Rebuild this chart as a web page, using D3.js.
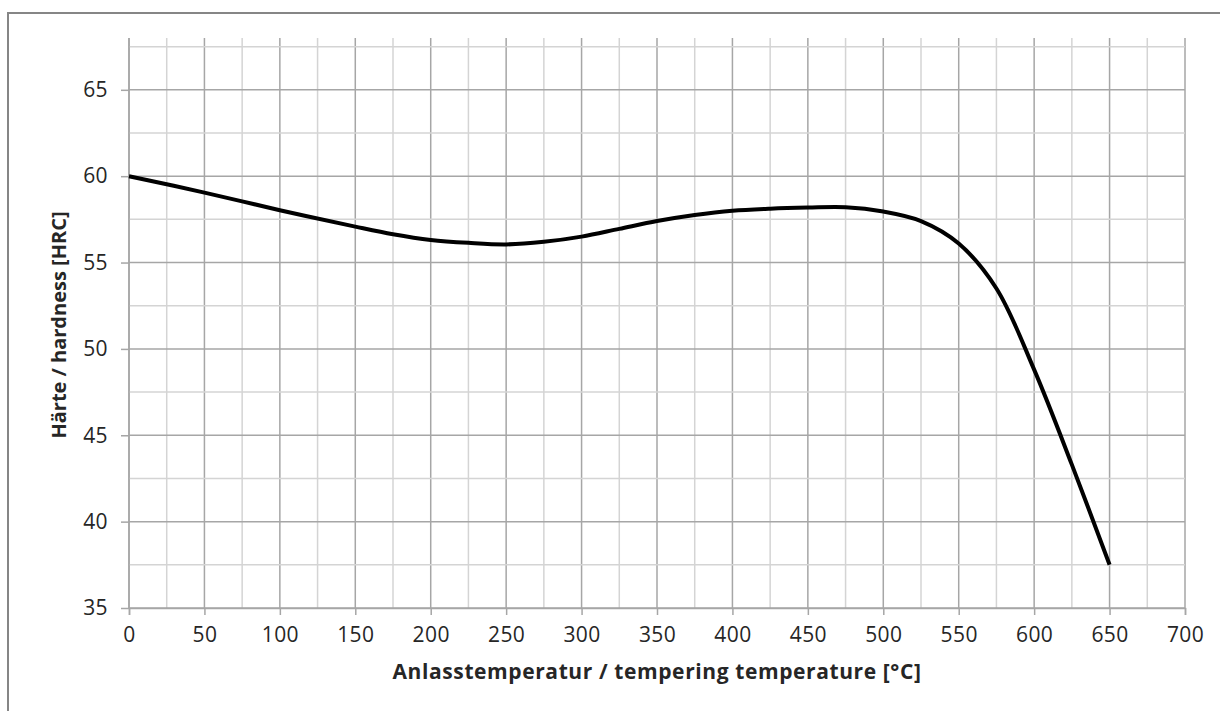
<!DOCTYPE html>
<html>
<head>
<meta charset="utf-8">
<script src="https://cdn.jsdelivr.net/npm/d3@7"></script>
<style>
  body { margin: 0; background: #fff; }
  svg text { font-family: "Open Sans", "DejaVu Sans", sans-serif; fill: #262626; }
</style>
</head>
<body>
<div id="vis"></div>
<script>
// Tempering curve
var temperatures = [0, 50, 100, 150, 175, 200, 225, 250, 275, 300, 325, 350, 375,
  400, 425, 450, 475, 500, 525, 550, 575, 600, 625, 650];
var hardness = [60, 59.05, 58.03, 57.08, 56.64, 56.31, 56.14, 56.05, 56.2, 56.5,
  56.95, 57.4, 57.75, 58.0, 58.12, 58.18, 58.2, 57.95, 57.4, 56.1, 53.5, 48.8, 43.3, 37.5];

// Tick labels
var xTicks = [0, 50, 100, 150, 200, 250, 300, 350, 400, 450, 500, 550, 600, 650, 700];
var yTicks = [35, 40, 45, 50, 55, 60, 65];

var width = 1220;
var height = 711;
var margin = {
  top: 38,
  left: 129,
  bottom: 103,
  right: 35
};

var svg = d3.select('#vis').append('svg')
  .attr('width', width)
  .attr('height', height);

// Outer frame of the chart area (only top and left edges are visible)
svg.append('path')
  .attr('d', 'M8,' + height + 'V13H' + width)
  .attr('fill', 'none')
  .attr('stroke', '#868686')
  .attr('stroke-width', 2);

var x = d3.scaleLinear()
  .domain([0, 700])
  .range([margin.left, width - margin.right]);

var y = d3.scaleLinear()
  .domain([35, 68])
  .range([height - margin.bottom, margin.top]);

var g = svg.append('g');

// Minor and major grid, every 25 on x and every 2.5 on y
var xGrid = d3.range(0, 701, 25);
var yGrid = d3.range(35, 68, 2.5);

g.selectAll('.vgrid').data(xGrid)
  .enter().append('line')
  .attr('class', 'vgrid')
  .attr('x1', function (d) { return x(d); })
  .attr('x2', function (d) { return x(d); })
  .attr('y1', y(68))
  .attr('y2', y(35))
  .attr('stroke', function (d) { return d % 50 === 0 ? '#a6a6a6' : '#d4d4d4'; })
  .attr('stroke-width', 1.5);

g.selectAll('.hgrid').data(yGrid)
  .enter().append('line')
  .attr('class', 'hgrid')
  .attr('x1', x(0))
  .attr('x2', x(700))
  .attr('y1', function (d) { return y(d); })
  .attr('y2', function (d) { return y(d); })
  .attr('stroke', function (d) { return d % 5 === 0 ? '#a6a6a6' : '#d4d4d4'; })
  .attr('stroke-width', 1.5);

// Axes
var xAxis = d3.axisBottom(x)
  .tickValues(xTicks)
  .tickSize(7)
  .tickPadding(12);

var yAxis = d3.axisLeft(y)
  .tickValues(yTicks)
  .tickSize(8)
  .tickPadding(13);

var xa = g.append('g')
  .attr('transform', 'translate(0,' + y(35) + ')')
  .call(xAxis);

var ya = g.append('g')
  .attr('transform', 'translate(' + x(0) + ',0)')
  .call(yAxis);

[xa, ya].forEach(function (a) {
  a.select('.domain').attr('stroke', '#a6a6a6').attr('stroke-width', 1.5);
  a.selectAll('.tick line').attr('stroke', '#a6a6a6').attr('stroke-width', 1.5);
  a.selectAll('.tick text')
    .style('font-size', '21px')
    .style('letter-spacing', '0.4px')
    .attr('fill', '#333');
});
ya.select('.domain').attr('d', 'M0,' + y(35) + 'V' + y(68));

// Curve
var pts = temperatures.map(function (t, i) { return [t, hardness[i]]; });

var line = d3.line()
  .x(function (d) { return x(d[0]); })
  .y(function (d) { return y(d[1]); })
  .curve(d3.curveCatmullRom.alpha(0.5));

g.append('path')
  .datum(pts)
  .attr('d', line)
  .attr('fill', 'none')
  .attr('stroke', '#000')
  .attr('stroke-width', 4)
  .attr('stroke-linejoin', 'round');

// Axis titles
svg.append('text')
  .attr('x', (x(0) + x(700)) / 2)
  .attr('y', 679)
  .attr('text-anchor', 'middle')
  .style('font-size', '21px')
  .style('letter-spacing', '0.6px')
  .style('font-weight', 'bold')
  .text('Anlasstemperatur / tempering temperature [°C]');

svg.append('text')
  .attr('transform', 'translate(66,' + 325 + ') rotate(-90)')
  .attr('text-anchor', 'middle')
  .style('font-size', '20px')
  .style('font-weight', 'bold')
  .text('Härte / hardness [HRC]');
</script>
</body>
</html>
